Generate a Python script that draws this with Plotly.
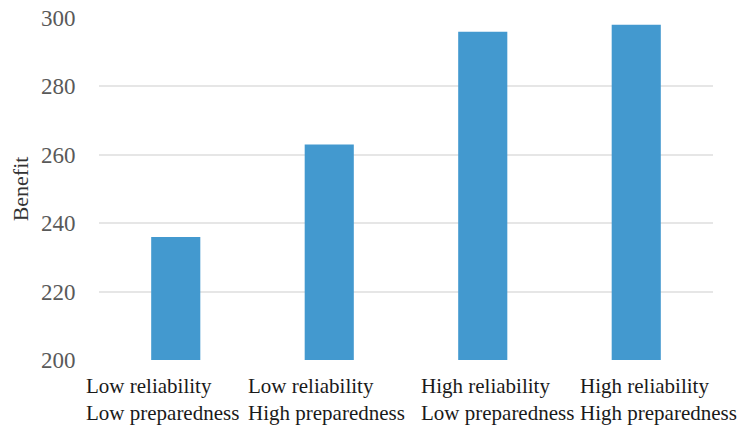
import plotly.graph_objects as go

categories = ["Low reliability<br>Low preparedness", "Low reliability<br>High preparedness",
              "High reliability<br>Low preparedness", "High reliability<br>High preparedness"]
benefit = [236, 263, 296, 298]
y_ticks = [200, 220, 240, 260, 280, 300]
label_shift = [-92, -83, -64, -58]

fig = go.Figure(go.Bar(x=list(range(len(categories))), y=benefit, marker=dict(color="#4399CF",
                line=dict(width=0)), width=0.32))

annotations = []
for i, (c, s) in enumerate(zip(categories, label_shift)):
    annotations.append(dict(x=i, xref="x", y=0, yref="paper", yanchor="top", xanchor="left",
                            xshift=s, yshift=-12, text=c, showarrow=False, align="left",
                            font=dict(family="Liberation Serif", size=21, color="#1a1a1a")))

fig.update_layout(
    width=740, height=425,
    margin=dict(l=99, r=27, t=18, b=65, autoexpand=False),
    plot_bgcolor="white", paper_bgcolor="white",
    showlegend=False,
    annotations=annotations,
    xaxis=dict(range=[-0.5, 3.5], showticklabels=False, showgrid=False, zeroline=False,
               showline=False, tickvals=[], automargin=False),
    yaxis=dict(range=[200, 300], tickvals=y_ticks, showgrid=True, gridcolor="#e6e6e6",
               gridwidth=1.5, zeroline=False, showline=False, automargin=False,
               ticks="outside", ticklen=18, tickcolor="rgba(0,0,0,0)",
               tickfont=dict(family="Liberation Serif", size=23, color="#595959"),
               title=dict(text="Benefit", standoff=6,
                          font=dict(family="Liberation Serif", size=22, color="#333333"))),
)

fig.write_html("out.html", config={"displayModeBar": False},
               post_script="document.body.style.margin='0';document.body.style.overflow='hidden';")
